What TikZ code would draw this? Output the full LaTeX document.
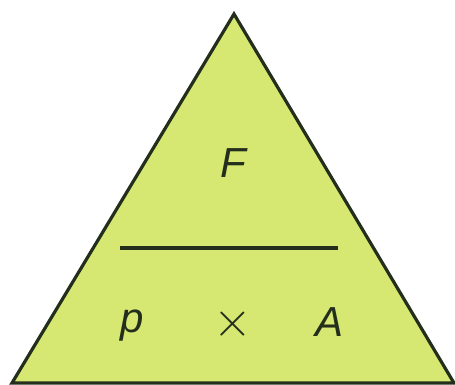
\documentclass[tikz,border=0pt]{standalone}
\usepackage{fontspec}
\setmainfont{Liberation Sans}
\definecolor{trifill}{RGB}{214,232,114}
\definecolor{triline}{RGB}{36,46,28}
\begin{document}
\begin{tikzpicture}[x=0.5pt,y=-0.5pt,
  lbl/.style={font=\fontsize{21}{25}\selectfont\itshape, text=triline, inner sep=0pt}]
\useasboundingbox (0,0) rectangle (455,385);
\coordinate (apex) at (234,14);
\coordinate (bl) at (12,383);
\coordinate (br) at (454,383);
\filldraw[fill=trifill, draw=triline, line width=1.6pt, line join=miter] (apex) -- (bl) -- (br) -- cycle;
\coordinate (l1) at (120,248);
\coordinate (l2) at (338,248);
\draw[triline, line width=2.2pt] (l1) -- (l2);
\node[lbl] (F) at (233,163) {F};
\node[lbl] (p) at (132,326) {p};
\node[font=\fontsize{23}{27}\selectfont, text=triline, inner sep=0pt] (x) at (233,324) {$\times$};
\node[lbl] (A) at (330,322) {A};
\end{tikzpicture}
\end{document}
